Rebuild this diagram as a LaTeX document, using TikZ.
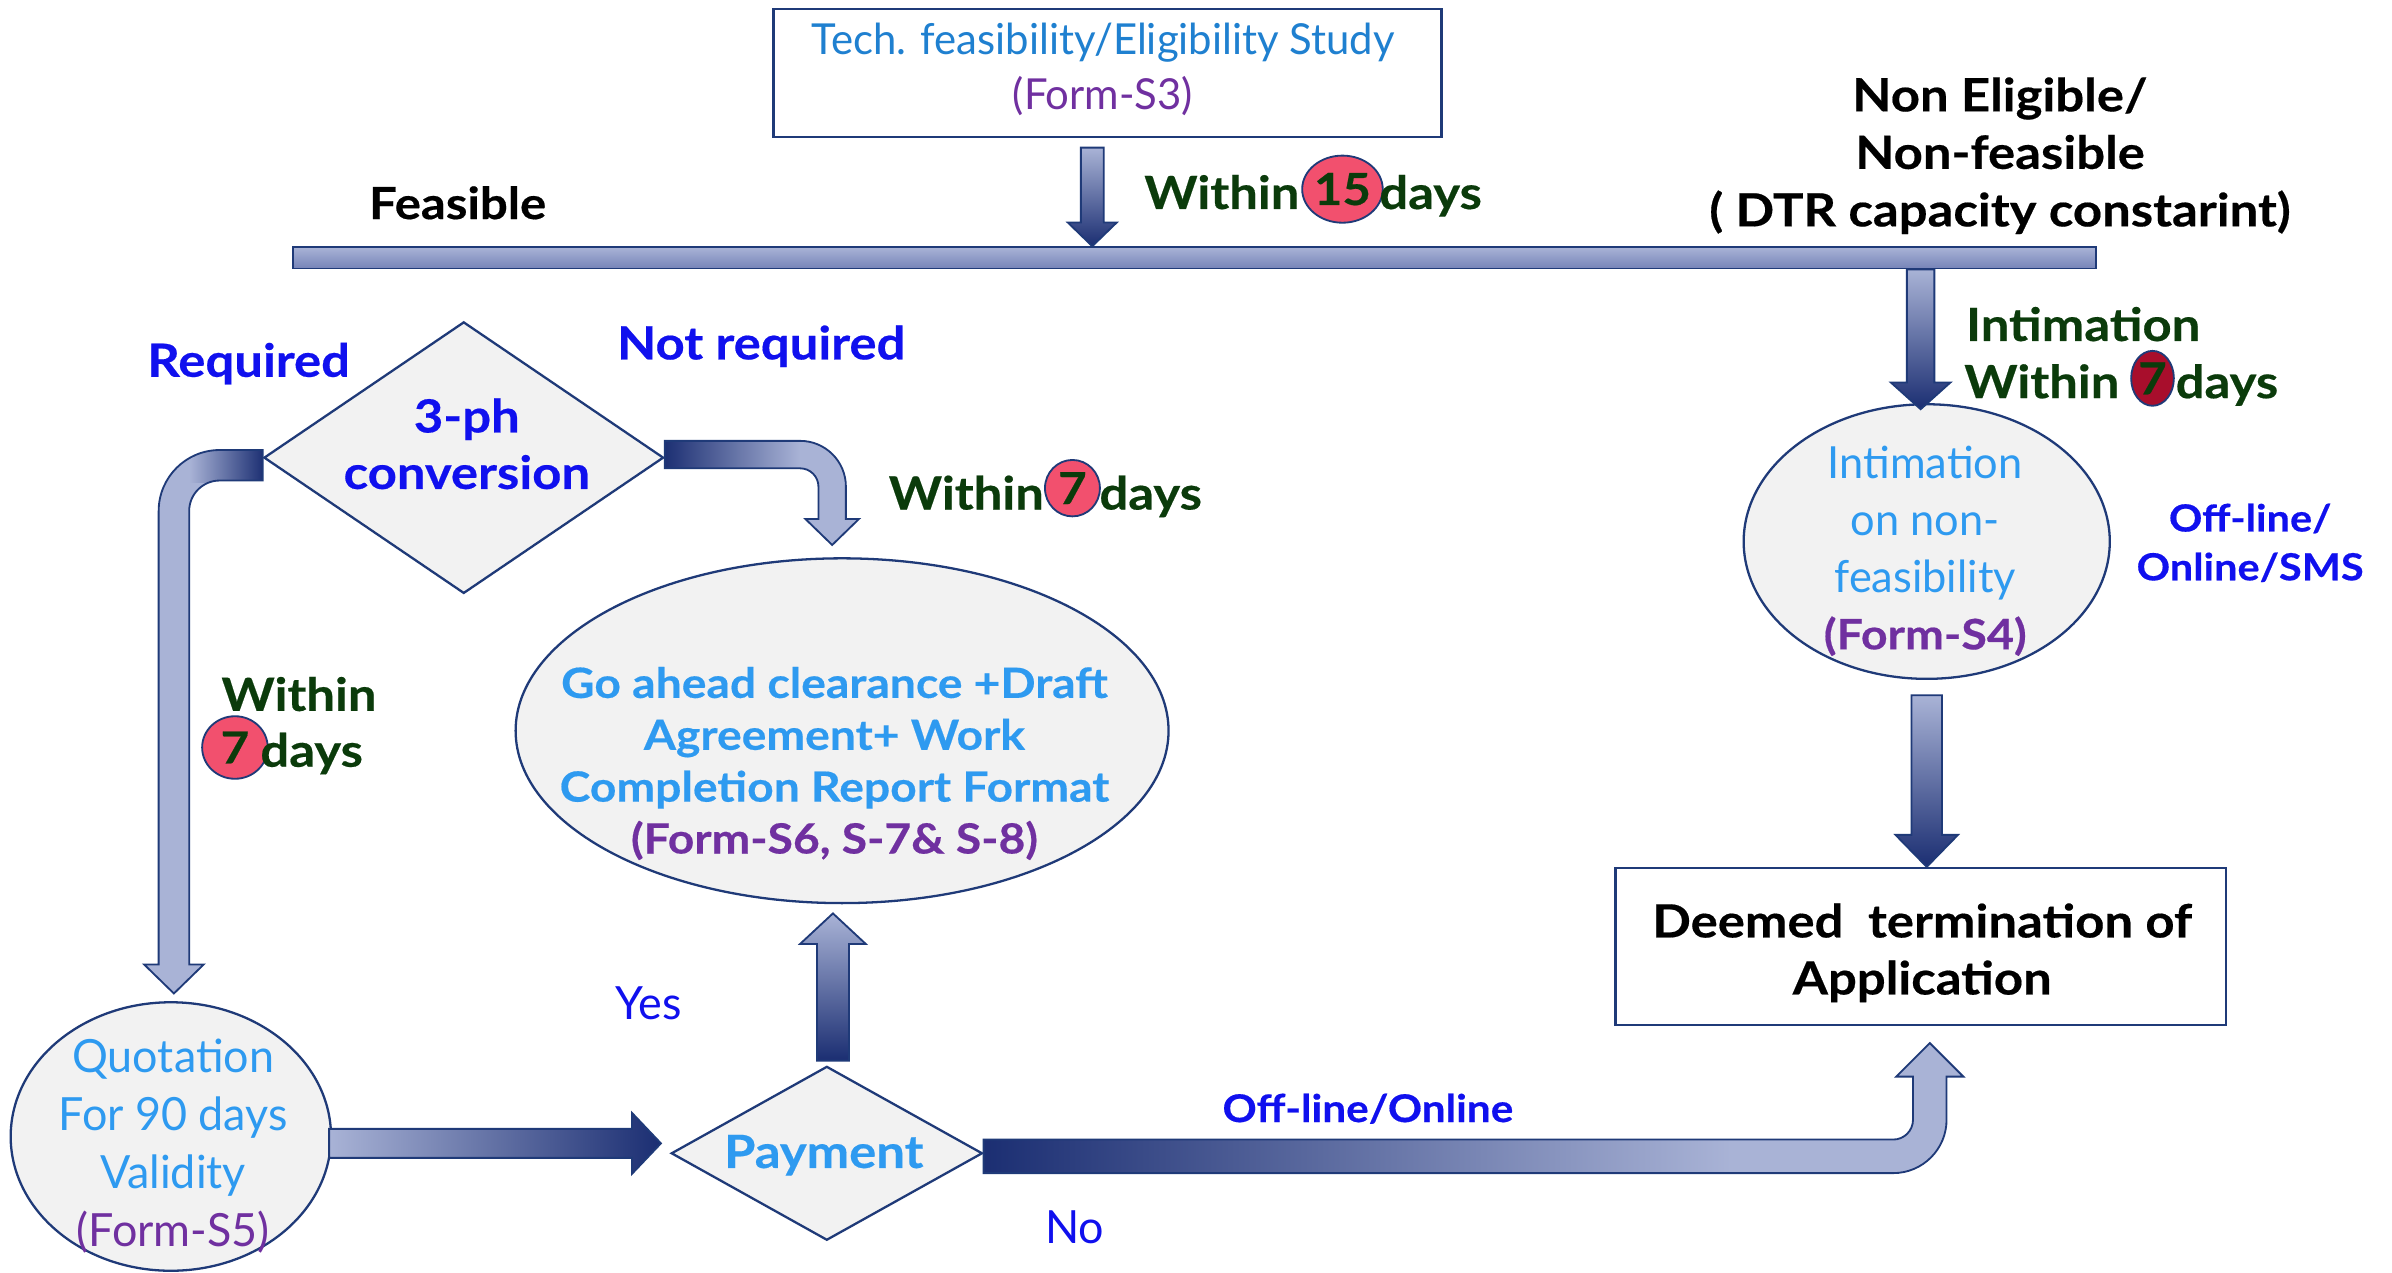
\documentclass[tikz,border=0pt]{standalone}
\usepackage{fontspec}
\setmainfont{Lato}[UprightFeatures={FakeStretch=0.98},BoldFeatures={FakeStretch=1.11,FakeBold=0.4}]
\usetikzlibrary{shapes.geometric,calc}
\definecolor{navy}{HTML}{1F3A78}
\definecolor{alight}{HTML}{A9B3D6}
\definecolor{adark}{HTML}{1B2E72}
\definecolor{amid}{HTML}{7684B8}
\definecolor{greyfill}{HTML}{F2F2F2}
\definecolor{techblue}{HTML}{1F80D0}
\definecolor{txtblue}{HTML}{2E9AF0}
\definecolor{formpurple}{HTML}{7030A0}
\definecolor{lblblue}{HTML}{1010EE}
\definecolor{dgreen}{HTML}{0B3B0B}
\definecolor{pinkc}{HTML}{F2506E}
\definecolor{redc}{HTML}{A80E2C}
\pgfdeclarelayer{bg}
\pgfsetlayers{bg,main}
\newcommand\rsz[2]{\fontsize{#1}{#2}\selectfont}
\newcommand\bsz[2]{\bfseries\fontsize{#1}{#2}\selectfont}
\tikzset{
  shp/.style={draw=navy, line width=1.5pt, fill=greyfill, inner sep=0pt},
  ell/.style={shp, ellipse},
  dia/.style={shp, diamond},
  boxn/.style={draw=navy, line width=1.5pt, fill=white, rectangle, inner sep=0pt},
  txt/.style={inner sep=0pt, align=center},
  arrowline/.style={draw=navy, line width=1.2pt, line join=miter},
  numc/.style={ellipse, draw=navy, line width=1.2pt, inner sep=0pt, text=dgreen, font=\bsz{29}{30}},
  daytxt/.style={txt, font=\bsz{30}{35}, text=dgreen},
}
\newcommand\bentLpath{($(ph.west)+(0,-5)$) -- ($(Lc)+(30,-5)$) .. controls ($(Lc)+(7.9,-5)$) and ($(Lc)+(-10,12.9)$) .. ($(Lc)+(-10,35)$) -- ($(Lt)+(-10,-19)$) -- ($(Lt)+(-19.5,-19)$) -- (Lt) -- ($(Lt)+(19.5,-19)$) -- ($(Lt)+(10,-19)$) -- ($(Lc)+(10,35)$) .. controls ($(Lc)+(10,23.96)$) and ($(Lc)+(18.96,15)$) .. ($(Lc)+(30,15)$) -- ($(ph.west)+(0,15)$) -- cycle}
\newcommand\bentRpath{($(ph.east)+(0,-11)$) -- ($(Rc)+(-21,-11)$) .. controls ($(Rc)+(-4.44,-11)$) and ($(Rc)+(9,2.44)$) .. ($(Rc)+(9,19)$) -- ($(Rt)+(9,-17)$) -- ($(Rt)+(17.5,-17)$) -- (Rt) -- ($(Rt)+(-17.5,-17)$) -- ($(Rt)+(-9,-17)$) -- ($(Rc)+(-9,19)$) .. controls ($(Rc)+(-9,12.38)$) and ($(Rc)+(-14.38,7)$) .. ($(Rc)+(-21,7)$) -- ($(ph.east)+(0,7)$) -- cycle}
\newcommand\bentBpath{($(pay.east)+(0,-9)$) -- ($(Bc)+(-24,-9)$) .. controls ($(Bc)+(-16.8,-9)$) and ($(Bc)+(-11,-14.8)$) .. ($(Bc)+(-11,-22)$) -- ($(Bt)+(-11,22)$) -- ($(Bt)+(-22,22)$) -- (Bt) -- ($(Bt)+(22,22)$) -- ($(Bt)+(11,22)$) -- ($(Bc)+(11,-22)$) .. controls ($(Bc)+(11,-2.68)$) and ($(Bc)+(-4.68,13)$) .. ($(Bc)+(-24,13)$) -- ($(pay.east)+(0,13)$) -- cycle}
\begin{document}
\begin{tikzpicture}[x=1pt,y=-1pt]
\useasboundingbox (0,0) rectangle (1568,834);
\fill[white] (0,0) rectangle (1568,834);

% shapes
\node[boxn, minimum width=438pt, minimum height=84pt] (tech) at (726,48) {};
\node[rectangle, draw=navy, line width=1.2pt, top color=alight, bottom color=amid, minimum width=1182pt, minimum height=14pt, inner sep=0pt] (bar) at (783,169) {};
\node[dia, minimum width=262pt, minimum height=178pt] (ph) at (304,300) {};
\node[ell, minimum width=428pt, minimum height=226pt] (goa) at (552,479) {};
\node[ell, minimum width=210pt, minimum height=176pt] (quot) at (112,745) {};
\node[dia, minimum width=204pt, minimum height=114pt] (pay) at (542,756) {};
\node[ell, minimum width=240pt, minimum height=180pt] (intim) at (1263,355) {};
\node[boxn, minimum width=400pt, minimum height=103pt] (deem) at (1259,620.5) {};

% stub from bar to diamond
\begin{pgfonlayer}{bg}
\filldraw[fill=alight, draw=navy, line width=1.2pt] ($(ph.north)+(-7,-40)$) rectangle ($(ph.north)+(8,8)$);
\end{pgfonlayer}

% straight arrows
\coordinate (a1s) at ($(tech.south)+(-10,6)$);
\coordinate (a1t) at (a1s |- bar.north);
\shadedraw[arrowline, top color=alight, bottom color=adark] ($(a1s)+(-7.5,0)$) -- ($(a1t)+(-7.5,-15.5)$) -- ($(a1t)+(-16,-15.5)$) -- (a1t) -- ($(a1t)+(16,-15.5)$) -- ($(a1t)+(7.5,-15.5)$) -- ($(a1s)+(7.5,0)$) -- cycle;

\coordinate (a2t) at ($(intim.north)+(-4,4)$);
\coordinate (a2s) at (a2t |- bar.south);
\shadedraw[arrowline, top color=alight, bottom color=adark] ($(a2s)+(-9,0)$) -- ($(a2t)+(-9,-17.5)$) -- ($(a2t)+(-19.5,-17.5)$) -- (a2t) -- ($(a2t)+(19.5,-17.5)$) -- ($(a2t)+(9,-17.5)$) -- ($(a2s)+(9,0)$) -- cycle;

\coordinate (a3s) at ($(intim.south)+(0,10)$);
\coordinate (a3t) at (a3s |- deem.north);
\shadedraw[arrowline, top color=alight, bottom color=adark] ($(a3s)+(-10,0)$) -- ($(a3t)+(-10,-21)$) -- ($(a3t)+(-20.5,-21)$) -- (a3t) -- ($(a3t)+(20.5,-21)$) -- ($(a3t)+(10,-21)$) -- ($(a3s)+(10,0)$) -- cycle;

\coordinate (a4s) at ($(pay.north)+(4,-3)$);
\coordinate (a4t) at ($(a4s |- goa.south)+(0,6)$);
\shadedraw[arrowline, top color=alight, bottom color=adark] ($(a4s)+(-10.5,0)$) -- ($(a4t)+(-10.5,20)$) -- ($(a4t)+(-21.5,20)$) -- (a4t) -- ($(a4t)+(21.5,20)$) -- ($(a4t)+(10.5,20)$) -- ($(a4s)+(10.5,0)$) -- cycle;

\coordinate (a5s) at ($(quot.east)+(-2,4.5)$);
\coordinate (a5t) at ($(pay.west |- a5s)+(-6,0)$);
\shadedraw[arrowline, left color=alight, right color=adark] ($(a5s)+(0,-9.5)$) -- ($(a5t)+(-19,-9.5)$) -- ($(a5t)+(-19,-20)$) -- (a5t) -- ($(a5t)+(-19,20)$) -- ($(a5t)+(-19,9.5)$) -- ($(a5s)+(0,9.5)$) -- cycle;

% bent arrows
\coordinate (Lt) at ($(quot.north)+(2,-5)$);
\coordinate (Lc) at (Lt |- ph.west);
\begin{scope}
\clip \bentLpath;
\fill[alight] ($(Lc)+(-40,-30)$) rectangle ($(Lt)+(40,5)$);
\shade[left color=alight, right color=adark] ($(Lc)+(10,-6)$) rectangle ($(ph.west)+(1,16)$);
\end{scope}
\draw[arrowline] \bentLpath;

\coordinate (Rt) at ($(goa.north)+(-6.5,-8)$);
\coordinate (Rc) at (Rt |- ph.east);
\begin{scope}
\clip \bentRpath;
\fill[alight] ($(Rc)+(-40,-30)$) rectangle ($(Rt)+(40,5)$);
\shade[left color=adark, right color=alight] ($(ph.east)+(-1,-12)$) rectangle ($(Rc)+(-21,8)$);
\end{scope}
\draw[arrowline] \bentRpath;

\coordinate (Bt) at ($(deem.south)+(6,11)$);
\coordinate (Bc) at (Bt |- pay.east);
\begin{scope}
\clip \bentBpath;
\fill[alight] ($(pay.east |- Bt)+(0,-10)$) rectangle ($(Bc)+(40,40)$);
\shade[left color=adark, right color=alight] ($(pay.east)+(-1,-10)$) rectangle ($(Bc)+(-130,14)$);
\end{scope}
\draw[arrowline] \bentBpath;

% number circles
\node[numc, fill=pinkc, minimum width=44pt, minimum height=44pt] (c15) at (880,124) {15};
\node[numc, fill=pinkc, minimum width=36pt, minimum height=37pt] (c7m) at (703,320) {7};
\node[numc, fill=pinkc, minimum width=43pt, minimum height=41pt] (c7l) at (154,490) {7};
\node[numc, fill=redc, minimum width=28pt, minimum height=36pt] (c7r) at (1411,248) {7};

% texts
\node[txt, anchor=north, font=\rsz{28}{36}] (techT) at (723,15) {\textcolor{techblue}{Tech. feasibility/Eligibility Study}\\\textcolor{formpurple}{(Form-S3)}};
\node[txt, anchor=base, font=\bsz{29}{35}] (feas) at (300,143.6) {Feasible};
\node[daytxt, anchor=base east] (w15) at (852,137) {Within};
\node[daytxt, anchor=base west] (d15) at (904,137) {days};
\node[txt, anchor=north, font=\bsz{30}{37.7}] (noneli) at (1311,50.5) {Non Eligible/\\Non-feasible\\( DTR capacity constarint)};
\node[txt, anchor=base, font=\bsz{30}{36}, text=lblblue] (req) at (163,247) {Required};
\node[txt, anchor=base, font=\bsz{30}{36}, text=lblblue] (notreq) at (499,235.6) {Not required};
\node[txt, anchor=north, font=\bsz{30}{37}, text=lblblue] (phT) at (306,261) {3-ph\\conversion};
\node[daytxt, anchor=base east] (w7m) at (684.5,334) {Within};
\node[daytxt, anchor=base west] (d7m) at (720.5,334) {days};
\node[daytxt, anchor=base] (w7l) at (196,466) {Within};
\node[daytxt, anchor=base west] (d7l) at (170.5,502.6) {days};
\node[txt, anchor=north, font=\bsz{27.3}{34}, text=txtblue] (goaT) at (547,437) {Go ahead clearance +Draft\\Agreement+ Work\\Completion Report Format\\\textcolor{formpurple}{(Form-S6, S-7\& S-8)}};
\node[txt, anchor=base, font=\bsz{30}{36}, text=txtblue] (payT) at (540,765.6) {Payment};
\node[txt, anchor=north, font=\rsz{30}{38}, text=txtblue] (quotT) at (113.5,681) {Quotation\\For 90 days\\Validity\\\textcolor{formpurple}{(Form-S5)}};
\node[txt, anchor=base, font=\rsz{30}{36}, text=lblblue] (yes) at (425,668.6) {Yes};
\node[txt, anchor=base, font=\rsz{30}{36}, text=lblblue] (no) at (704.6,815) {No};
\node[txt, anchor=base, font=\bsz{25}{32}, text=lblblue] (offon) at (896.7,735.5) {Off-line/Online};
\node[txt, anchor=north, font=\bsz{30}{37.4}] (deemT) at (1260,592) {Deemed\ \ termination of\\Application};
\node[txt, anchor=north, font=\rsz{29}{37.4}, text=txtblue] (intimT) at (1262,292) {Intimation\\on non-\\feasibility\\{\bfseries\fontsize{27.5}{37.4}\selectfont\textcolor{formpurple}{(Form-S4)}}};
\node[txt, anchor=base, font=\bsz{30}{37}, text=dgreen] (intG) at (1365.5,223.5) {Intimation};
\node[daytxt, anchor=base east] (w7r) at (1389.5,261) {Within};
\node[daytxt, anchor=base west] (d7r) at (1426,261) {days};
\node[txt, anchor=north, font=\bsz{24.5}{32}, text=lblblue] (offsms) at (1475,330) {Off-line/\\Online/SMS};
\end{tikzpicture}
\end{document}
